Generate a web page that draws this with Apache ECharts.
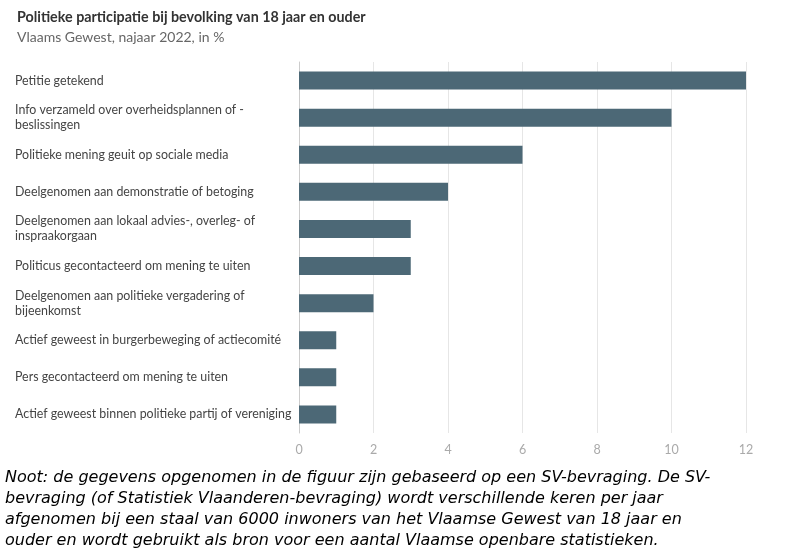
<!DOCTYPE html>
<html>
<head>
<meta charset="utf-8">
<script src="https://cdn.jsdelivr.net/npm/echarts@6/dist/echarts.min.js"></script>
<style>
html,body{margin:0;padding:0;background:#fff;}
#main{width:789px;height:553px;}
</style>
</head>
<body>
<div id="main"></div>
<script>
var categories = [
    'Petitie getekend',
    'Info verzameld over overheidsplannen of -\nbeslissingen',
    'Politieke mening geuit op sociale media',
    'Deelgenomen aan demonstratie of betoging',
    'Deelgenomen aan lokaal advies-, overleg- of\ninspraakorgaan',
    'Politicus gecontacteerd om mening te uiten',
    'Deelgenomen aan politieke vergadering of\nbijeenkomst',
    'Actief geweest in burgerbeweging of actiecomité',
    'Pers gecontacteerd om mening te uiten',
    'Actief geweest binnen politieke partij of vereniging'
];
var values = [12, 10, 6, 4, 3, 3, 2, 1, 1, 1];
var xTicks = [0, 2, 4, 6, 8, 10, 12];

var noteLines = [
    'Noot: de gegevens opgenomen in de figuur zijn gebaseerd op een SV-bevraging. De SV-',
    'bevraging (of Statistiek Vlaanderen-bevraging) wordt verschillende keren per jaar',
    'afgenomen bij een staal van 6000 inwoners van het Vlaamse Gewest van 18 jaar en',
    'ouder en wordt gebruikt als bron voor een aantal Vlaamse openbare statistieken.'
];

var mainEchart = echarts.init(document.getElementById('main'));

var noteGraphics = noteLines.map(function (line, i) {
    return {
        type: 'text',
        left: 5,
        top: 470 + i * 21,
        style: {
            text: line,
            font: 'italic 16px "DejaVu Sans", Verdana, sans-serif',
            fill: '#000'
        }
    };
});

mainEchart.setOption({
    animation: false,
    backgroundColor: '#fff',
    title: {
        text: 'Politieke participatie bij bevolking van 18 jaar en ouder',
        subtext: 'Vlaams Gewest, najaar 2022, in %',
        left: 12,
        top: 5,
        itemGap: 6,
        textStyle: {fontFamily: 'Lato', fontSize: 14.3, fontWeight: 'bold', color: '#333'},
        subtextStyle: {fontFamily: 'Lato', fontSize: 14, color: '#666'}
    },
    grid: {left: 299, right: 43, top: 62, bottom: 120, containLabel: false},
    xAxis: {
        type: 'value',
        min: xTicks[0],
        max: xTicks[xTicks.length - 1],
        interval: 2,
        axisLine: {show: false},
        axisTick: {show: false},
        axisLabel: {fontFamily: 'Lato', fontSize: 12.5, color: '#aaa', margin: 10},
        splitLine: {lineStyle: {color: '#e6e6e6'}}
    },
    yAxis: {
        type: 'category',
        data: categories,
        inverse: true,
        axisLine: {show: true, lineStyle: {color: '#ccc'}},
        axisTick: {show: false},
        axisLabel: {
            align: 'left',
            margin: 284,
            fontFamily: 'Lato',
            fontSize: 12.4,
            lineHeight: 15,
            color: '#444'
        }
    },
    series: [{
        type: 'bar',
        data: values,
        barWidth: 18,
        itemStyle: {color: '#4c6876'}
    }],
    graphic: noteGraphics
});
</script>
</body>
</html>
